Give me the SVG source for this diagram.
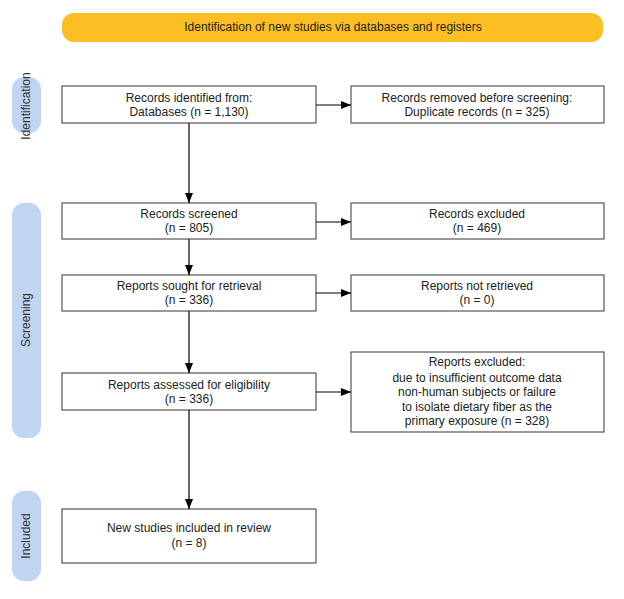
<svg xmlns="http://www.w3.org/2000/svg" width="624" height="599" viewBox="0 0 624 599">
<style>
text{font-family:"Liberation Sans",Arial,sans-serif;font-size:12px;fill:#222;text-anchor:middle}
.box{fill:#fff;stroke:#555;stroke-width:1.2}
.side{fill:#BFD5F1}
.side text{fill:#333}
.c{stroke:#000;stroke-width:1.2;fill:none;marker-end:url(#ah)}
</style>
<defs>
<marker id="ah" viewBox="0 0 10 8" refX="10" refY="4" markerWidth="10" markerHeight="8" markerUnits="userSpaceOnUse" orient="auto">
<path d="M0,0 L10,4 L0,8 z" fill="#000"/>
</marker>
</defs>
<rect width="624" height="599" fill="#fff"/>
<g id="banner">
<rect x="62" y="13" width="541" height="29" rx="12" fill="#FBBF24"/>
<text x="333" y="31">Identification of new studies via databases and registers</text>
</g>
<g id="side-identification" class="side">
<rect x="12" y="77" width="29" height="56" rx="12"/>
<text transform="translate(30,106) rotate(-90)">Identification</text>
</g>
<g id="side-screening" class="side">
<rect x="12" y="203" width="29" height="235" rx="12"/>
<text transform="translate(30,320) rotate(-90)">Screening</text>
</g>
<g id="side-included" class="side">
<rect x="12" y="491" width="29" height="90" rx="12"/>
<text transform="translate(30,536) rotate(-90)">Included</text>
</g>
<g id="n-identified">
<rect class="box" x="62" y="86" width="254" height="37"/>
<text x="189" y="102">Records identified from:</text>
<text x="189" y="116">Databases (n = 1,130)</text>
</g>
<g id="n-removed">
<rect class="box" x="351" y="86" width="253" height="37"/>
<text x="477" y="102">Records removed before screening:</text>
<text x="477" y="116">Duplicate records (n = 325)</text>
</g>
<g id="n-screened">
<rect class="box" x="62" y="203" width="254" height="36"/>
<text x="189" y="218">Records screened</text>
<text x="189" y="232">(n = 805)</text>
</g>
<g id="n-excluded">
<rect class="box" x="351" y="203" width="253" height="36"/>
<text x="477" y="218">Records excluded</text>
<text x="477" y="232">(n = 469)</text>
</g>
<g id="n-sought">
<rect class="box" x="62" y="275" width="254" height="36"/>
<text x="189" y="290">Reports sought for retrieval</text>
<text x="189" y="304">(n = 336)</text>
</g>
<g id="n-notretrieved">
<rect class="box" x="351" y="275" width="253" height="36"/>
<text x="477" y="290">Reports not retrieved</text>
<text x="477" y="304">(n = 0)</text>
</g>
<g id="n-assessed">
<rect class="box" x="62" y="373" width="254" height="37"/>
<text x="189" y="389">Reports assessed for eligibility</text>
<text x="189" y="403">(n = 336)</text>
</g>
<g id="n-reportsexcluded">
<rect class="box" x="351" y="352" width="253" height="80"/>
<text x="477" y="366">Reports excluded:</text>
<text x="477" y="382">due to insufficient outcome data</text>
<text x="477" y="396">non-human subjects or failure</text>
<text x="477" y="411">to isolate dietary fiber as the</text>
<text x="477" y="425">primary exposure (n = 328)</text>
</g>
<g id="n-included">
<rect class="box" x="62" y="509" width="254" height="54"/>
<text x="189" y="532">New studies included in review</text>
<text x="189" y="547">(n = 8)</text>
</g>
<g id="connectors">
<line class="c" x1="316" y1="105" x2="351" y2="105"/>
<line class="c" x1="316" y1="222" x2="351" y2="222"/>
<line class="c" x1="316" y1="293" x2="351" y2="293"/>
<line class="c" x1="316" y1="392" x2="351" y2="392"/>
<line class="c" x1="189" y1="123" x2="189" y2="203"/>
<line class="c" x1="189" y1="239" x2="189" y2="275"/>
<line class="c" x1="189" y1="311" x2="189" y2="373"/>
<line class="c" x1="189" y1="410" x2="189" y2="509"/>
</g>
</svg>
